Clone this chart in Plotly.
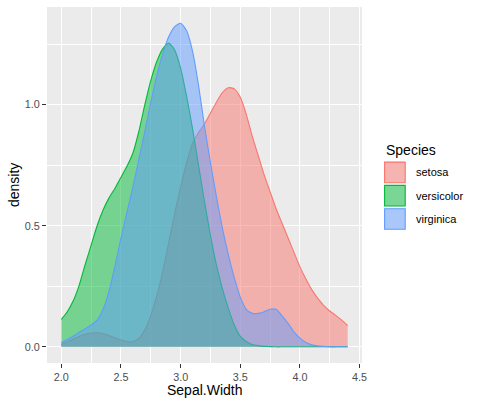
import plotly.graph_objects as go

sepal_width = [2.00, 2.05, 2.10, 2.15, 2.20, 2.25, 2.30, 2.35, 2.40, 2.45,
               2.50, 2.55, 2.60, 2.65, 2.70, 2.75, 2.80, 2.85, 2.90, 2.95,
               3.00, 3.05, 3.10, 3.15, 3.20, 3.25, 3.30, 3.35, 3.40, 3.45,
               3.50, 3.55, 3.60, 3.65, 3.70, 3.75, 3.80, 3.85, 3.90, 3.95,
               4.00, 4.05, 4.10, 4.15, 4.20, 4.25, 4.30, 4.35, 4.40]
setosa = [0.010, 0.020, 0.032, 0.043, 0.052, 0.057, 0.058, 0.054, 0.047, 0.037,
          0.028, 0.022, 0.022, 0.035, 0.070, 0.130, 0.210, 0.310, 0.430, 0.550,
          0.660, 0.760, 0.840, 0.885, 0.920, 0.965, 1.010, 1.050, 1.070, 1.065,
          1.030, 0.960, 0.870, 0.790, 0.710, 0.640, 0.570, 0.510, 0.450, 0.390,
          0.330, 0.280, 0.235, 0.200, 0.170, 0.148, 0.130, 0.110, 0.088]
versicolor = [0.113, 0.145, 0.190, 0.255, 0.340, 0.420, 0.500, 0.565, 0.615, 0.655,
              0.700, 0.745, 0.800, 0.890, 1.000, 1.100, 1.178, 1.230, 1.254, 1.225,
              1.150, 1.035, 0.900, 0.750, 0.600, 0.460, 0.338, 0.240, 0.159, 0.090,
              0.043, 0.022, 0.010, 0.005, 0.002, 0.001, 0.0, 0.0, 0.0, 0.0,
              0.0, 0.0, 0.0, 0.0, 0.0, 0.0, 0.0, 0.0, 0.0]
virginica = [0.017, 0.030, 0.045, 0.060, 0.075, 0.090, 0.110, 0.155, 0.230, 0.335,
             0.450, 0.555, 0.660, 0.775, 0.890, 1.010, 1.120, 1.210, 1.280, 1.322,
             1.336, 1.305, 1.220, 1.080, 0.910, 0.760, 0.620, 0.490, 0.380, 0.285,
             0.205, 0.155, 0.138, 0.138, 0.145, 0.155, 0.155, 0.128, 0.097, 0.062,
             0.036, 0.018, 0.008, 0.004, 0.002, 0.0, 0.0, 0.0, 0.0]
species = ["setosa", "versicolor", "virginica"]
x_ticks = [2.0, 2.5, 3.0, 3.5, 4.0, 4.5]
y_ticks = [0.0, 0.5, 1.0]

colors = {"setosa": "#F8766D", "versicolor": "#00BA38", "virginica": "#619CFF"}
fills = {"setosa": "rgba(248,118,109,0.5)", "versicolor": "rgba(0,186,56,0.5)",
         "virginica": "rgba(97,156,255,0.5)"}
series = {"setosa": setosa, "versicolor": versicolor, "virginica": virginica}

FONT = "Liberation Sans, Arial, Helvetica, sans-serif"

fig = go.Figure()
for sp in species:
    fig.add_trace(go.Scatter(
        x=sepal_width, y=series[sp], mode="lines", name=sp,
        line=dict(color=colors[sp], width=1.1, shape="spline", smoothing=0.6),
        fill="tozeroy", fillcolor=fills[sp], showlegend=False, hoverinfo="skip"))

# panel geometry in pixels
L, R, T, B = 47, 362, 7, 363
W, H = 479, 405

def px(xp):
    return (xp - L) / (R - L)

def py(yp):
    return (B - yp) / (B - T)

fig.update_layout(
    width=W, height=H,
    margin=dict(l=L, r=W - R, t=T, b=H - B, pad=0),
    paper_bgcolor="white", plot_bgcolor="#EBEBEB",
    font=dict(family=FONT),
    showlegend=False,
)
fig.update_xaxes(
    range=[1.88, 4.52], tickvals=x_ticks, ticktext=[f"{v:.1f}" for v in x_ticks],
    showgrid=True, gridcolor="white", gridwidth=1.4, zeroline=False, showline=False,
    ticks="outside", ticklen=4, tickwidth=1, tickcolor="#333333",
    tickfont=dict(size=10.8, color="#4D4D4D", family=FONT),
    minor=dict(tickvals=[2.25, 2.75, 3.25, 3.75, 4.25], showgrid=True,
               gridcolor="white", gridwidth=0.7, ticks=""),
)
fig.update_yaxes(
    range=[-0.0668, 1.403], tickvals=y_ticks, ticktext=[f"{v:.1f}" for v in y_ticks],
    showgrid=True, gridcolor="white", gridwidth=1.4, zeroline=False, showline=False,
    ticks="outside", ticklen=4, tickwidth=1, tickcolor="#333333",
    tickfont=dict(size=10.8, color="#4D4D4D", family=FONT),
    minor=dict(tickvals=[0.25, 0.75, 1.25], showgrid=True,
               gridcolor="white", gridwidth=0.7, ticks=""),
)

# axis titles
fig.add_annotation(text="Sepal.Width", xref="paper", yref="paper",
                   x=px((L + R) / 2), y=py(390), xanchor="center", yanchor="middle",
                   showarrow=False, font=dict(size=14, color="black", family=FONT))
fig.add_annotation(text="density", xref="paper", yref="paper",
                   x=px(14), y=py((T + B) / 2), xanchor="center", yanchor="middle",
                   textangle=-90, showarrow=False,
                   font=dict(size=14, color="black", family=FONT))

# legend (drawn by hand to mimic ggplot keys)
fig.add_annotation(text="Species", xref="paper", yref="paper",
                   x=px(384), y=py(150), xanchor="left", yanchor="middle",
                   showarrow=False, font=dict(size=14, color="black", family=FONT))
key_top = 161.5
key_size = 21.8
key_step = 23.3
for i, sp in enumerate(species):
    t = key_top + i * key_step
    fig.add_shape(type="rect", xref="paper", yref="paper",
                  x0=px(384), x1=px(384 + key_size), y0=py(t), y1=py(t + key_size),
                  fillcolor="#F2F2F2", line=dict(width=0), layer="above")
    fig.add_shape(type="rect", xref="paper", yref="paper",
                  x0=px(384.6), x1=px(384 + key_size - 0.6), y0=py(t + 0.6),
                  y1=py(t + key_size - 0.6),
                  fillcolor=fills[sp], line=dict(color=colors[sp], width=1.1),
                  layer="above")
    fig.add_annotation(text=sp, xref="paper", yref="paper",
                       x=px(414), y=py(t + key_size / 2), xanchor="left",
                       yanchor="middle", showarrow=False,
                       font=dict(size=11, color="black", family=FONT))

fig.write_html("out.html")
